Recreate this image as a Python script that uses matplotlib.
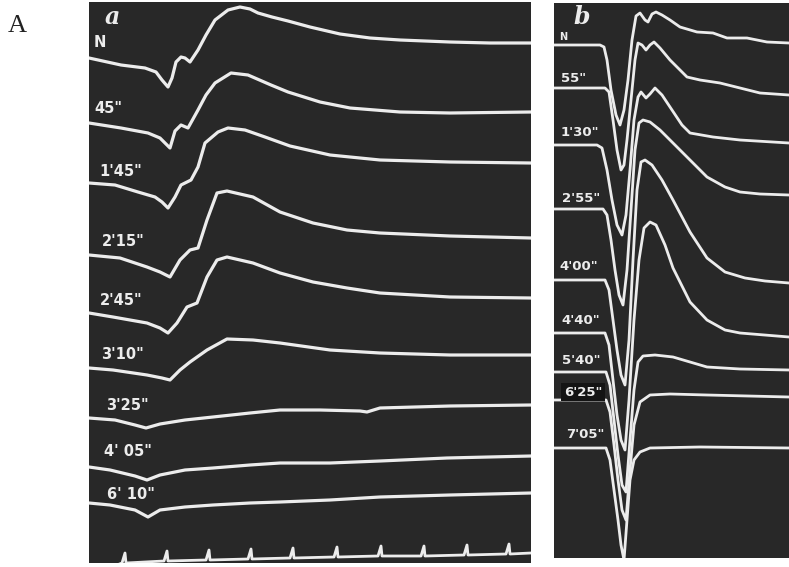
import matplotlib.pyplot as plt

# oscillograms, (x, y) in picture pixels, y grows downward
# panel a: action potentials recorded at the time marks given in labels_a
labels_a = ['N', '45"', "1'45\"", "2'15\"", "2'45\"", "3'10\"", "3'25\"", "4' 05\"", "6' 10\""]
label_pos_a = [(94, 42), (94, 108), (99, 171), (102, 241), (100, 300), (101, 354), (106, 405), (104, 451), (107, 494)]

trace_a_N_x = [89, 121, 145, 156, 162, 168, 172, 176, 181, 185, 190, 198, 206, 215, 228, 240, 250, 258, 272, 288, 310, 340, 370, 400, 450, 490, 531]
trace_a_N_y = [58, 65, 68, 72, 80, 87, 78, 62, 57, 58, 62, 50, 35, 20, 10, 7, 9, 13, 17, 21, 27, 34, 38, 40, 42, 43, 43]

trace_a_45_x = [89, 121, 148, 160, 165, 170, 175, 181, 188, 198, 206, 215, 231, 248, 271, 288, 320, 350, 400, 450, 531]
trace_a_45_y = [123, 128, 133, 138, 143, 148, 131, 125, 128, 110, 95, 83, 73, 75, 85, 92, 102, 108, 112, 113, 112]

trace_a_145_x = [89, 115, 138, 155, 162, 168, 175, 181, 191, 198, 205, 218, 228, 245, 265, 290, 330, 380, 450, 531]
trace_a_145_y = [183, 185, 192, 197, 202, 208, 197, 185, 180, 167, 143, 132, 128, 130, 137, 146, 155, 160, 162, 163]

trace_a_215_x = [89, 120, 147, 160, 170, 180, 190, 198, 207, 217, 227, 253, 280, 313, 347, 380, 450, 531]
trace_a_215_y = [255, 258, 267, 272, 277, 260, 250, 248, 220, 193, 191, 197, 212, 223, 230, 233, 236, 238]

trace_a_245_x = [89, 113, 147, 160, 168, 177, 187, 197, 207, 217, 227, 253, 280, 313, 347, 380, 450, 531]
trace_a_245_y = [313, 317, 323, 328, 333, 323, 307, 303, 277, 260, 257, 263, 273, 282, 288, 293, 297, 298]

trace_a_310_x = [89, 113, 147, 162, 170, 180, 190, 207, 227, 253, 280, 330, 380, 450, 531]
trace_a_310_y = [368, 370, 375, 378, 380, 370, 362, 350, 339, 340, 343, 350, 353, 355, 355]

trace_a_325_x = [89, 115, 135, 146, 160, 185, 213, 250, 280, 320, 360, 367, 380, 450, 531]
trace_a_325_y = [418, 420, 425, 428, 424, 420, 417, 413, 410, 410, 411, 412, 408, 406, 405]

trace_a_405_x = [89, 110, 135, 147, 160, 185, 213, 250, 280, 330, 380, 447, 531]
trace_a_405_y = [467, 470, 476, 480, 475, 470, 468, 465, 463, 463, 461, 458, 456]

trace_a_610_x = [89, 110, 135, 148, 160, 185, 213, 250, 280, 330, 380, 450, 531]
trace_a_610_y = [503, 505, 510, 517, 510, 507, 505, 503, 502, 500, 497, 495, 493]

# time marker at the foot of panel a
marker_x = [125, 167, 209, 251, 293, 337, 381, 424, 467, 509]
marker_base = [563, 561, 560, 559, 558, 557, 556, 556, 555, 554]

# panel b
labels_b = ['55"', "1'30\"", "2'55\"", "4'00\"", "4'40\"", "5'40\"", "6'25\"", "7'05\""]
label_pos_b = [(561, 78), (561, 133), (562, 199), (559, 267), (561, 321), (562, 361), (564, 392), (566, 435)]

trace_b_N_x = [554, 600, 604, 607, 611, 616, 620, 624, 628, 632, 636, 640, 645, 648, 652, 656, 662, 670, 680, 697, 713, 727, 747, 767, 789]
trace_b_N_y = [45, 45, 47, 60, 90, 115, 125, 110, 80, 40, 16, 13, 20, 22, 14, 12, 15, 20, 27, 32, 33, 38, 38, 42, 43]

trace_b_55_x = [554, 605, 609, 613, 617, 621, 624, 627, 631, 635, 638, 642, 646, 650, 654, 660, 670, 687, 700, 720, 740, 760, 789]
trace_b_55_y = [88, 88, 92, 120, 150, 170, 165, 140, 100, 60, 43, 45, 50, 45, 42, 48, 60, 77, 80, 83, 88, 93, 95]

trace_b_130_x = [554, 597, 602, 607, 612, 617, 622, 626, 630, 634, 638, 641, 646, 650, 655, 662, 672, 682, 690, 713, 740, 789]
trace_b_130_y = [145, 145, 148, 170, 200, 225, 235, 215, 170, 120, 97, 92, 98, 94, 88, 95, 110, 125, 133, 137, 140, 143]

trace_b_255_x = [554, 603, 607, 611, 615, 619, 623, 627, 631, 635, 639, 643, 650, 660, 673, 690, 707, 725, 740, 760, 789]
trace_b_255_y = [209, 209, 215, 240, 270, 295, 305, 270, 210, 150, 123, 120, 122, 130, 143, 160, 177, 187, 192, 194, 195]

trace_b_400_x = [554, 605, 609, 613, 617, 621, 625, 629, 633, 637, 641, 645, 652, 662, 673, 690, 707, 725, 745, 765, 789]
trace_b_400_y = [280, 280, 290, 320, 350, 375, 385, 340, 260, 190, 162, 160, 165, 180, 200, 232, 258, 272, 278, 281, 283]

trace_b_440_x = [554, 605, 609, 613, 617, 621, 625, 629, 634, 639, 644, 650, 656, 665, 673, 690, 707, 725, 740, 789]
trace_b_440_y = [333, 333, 345, 380, 415, 440, 450, 400, 320, 260, 228, 222, 225, 245, 268, 302, 320, 330, 333, 337]

trace_b_540_x = [554, 606, 610, 614, 618, 622, 626, 630, 634, 638, 643, 655, 673, 690, 707, 740, 789]
trace_b_540_y = [372, 372, 385, 420, 455, 485, 492, 440, 390, 362, 356, 355, 357, 362, 367, 369, 370]

trace_b_625_x = [554, 606, 610, 614, 618, 622, 626, 630, 634, 640, 650, 670, 707, 789]
trace_b_625_y = [400, 400, 412, 445, 480, 510, 520, 470, 425, 402, 395, 394, 395, 397]

trace_b_705_x = [554, 606, 610, 614, 618, 621, 624, 627, 630, 634, 640, 650, 700, 789]
trace_b_705_y = [448, 448, 460, 490, 520, 545, 560, 520, 480, 460, 452, 448, 447, 448]

BG = '#282828'
INK = '#ececec'


def panel(fig, left, right, top, bottom):
    W, H = 789.0, 567.0
    ax = fig.add_axes([left / W, (H - bottom) / H, (right - left) / W, (bottom - top) / H])
    ax.set_xlim(left, right)
    ax.set_ylim(bottom, top)
    ax.set_facecolor(BG)
    ax.set_xticks([])
    ax.set_yticks([])
    for s in ax.spines.values():
        s.set_visible(False)
    return ax


def trace(ax, x, y, lw=2.3):
    ax.plot(x, y, color=INK, lw=lw, solid_capstyle='round', solid_joinstyle='round')


def main():
    fig = plt.figure(figsize=(7.89, 5.67), dpi=100)
    fig.patch.set_facecolor('white')

    fig.text(8 / 789, 1 - 26 / 567, 'A', fontsize=19, family='Liberation Serif',
             color='#222222', va='center', ha='left')

    ax = panel(fig, 89, 531, 2, 563)
    for x, y in [(trace_a_N_x, trace_a_N_y), (trace_a_45_x, trace_a_45_y),
                 (trace_a_145_x, trace_a_145_y), (trace_a_215_x, trace_a_215_y),
                 (trace_a_245_x, trace_a_245_y), (trace_a_310_x, trace_a_310_y),
                 (trace_a_325_x, trace_a_325_y), (trace_a_405_x, trace_a_405_y),
                 (trace_a_610_x, trace_a_610_y)]:
        trace(ax, x, y)

    # time marker: small upstroke at each mark
    mx = [112]
    my = [567]
    for xi, b in zip(marker_x, marker_base):
        mx += [xi - 3, xi, xi + 1]
        my += [b, b - 10, b]
    mx.append(531)
    my.append(553)
    trace(ax, mx, my, lw=2.0)

    ax.text(105, 17, 'a', fontsize=17, fontweight='bold', style='italic',
            family='DejaVu Serif', color=INK, va='center', ha='left')
    for t, (x, y) in zip(labels_a, label_pos_a):
        ax.text(x, y, t, fontsize=10.5, fontweight='bold', color=INK, va='center', ha='left')

    bx = panel(fig, 554, 789, 3, 558)
    for x, y in [(trace_b_N_x, trace_b_N_y), (trace_b_55_x, trace_b_55_y),
                 (trace_b_130_x, trace_b_130_y), (trace_b_255_x, trace_b_255_y),
                 (trace_b_400_x, trace_b_400_y), (trace_b_440_x, trace_b_440_y),
                 (trace_b_540_x, trace_b_540_y), (trace_b_625_x, trace_b_625_y),
                 (trace_b_705_x, trace_b_705_y)]:
        trace(bx, x, y, lw=2.0)

    bx.text(559, 37, 'N', fontsize=7, fontweight='bold', color=INK, va='center', ha='left')
    bx.text(573, 17, 'b', fontsize=17, fontweight='bold', style='italic',
            family='DejaVu Serif', color=INK, va='center', ha='left')
    for t, (x, y) in zip(labels_b, label_pos_b):
        box = None
        if t.startswith("6'25"):
            box = dict(boxstyle='square,pad=0.2', facecolor='#141414', edgecolor='none')
        bx.text(x, y, t, fontsize=9.5, fontweight='bold', color=INK, va='center', ha='left', bbox=box)

    fig.savefig('out.png', dpi=100, facecolor='white')


if __name__ == '__main__':
    main()
